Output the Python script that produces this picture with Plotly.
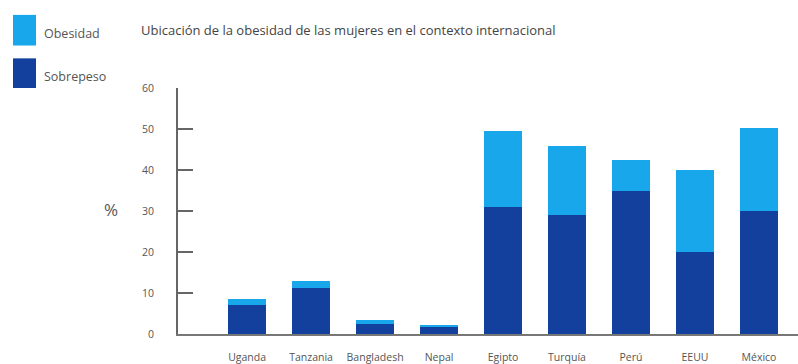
import plotly.graph_objects as go

# Datos: porcentaje de mujeres con sobrepeso y obesidad por país
paises = ["Uganda", "Tanzania", "Bangladesh", "Nepal", "Egipto",
          "Turquía", "Perú", "EEUU", "México"]
sobrepeso = [7.0, 11.2, 2.4, 1.6, 31.0, 29.0, 35.0, 20.0, 30.0]
obesidad = [1.5, 1.8, 1.0, 0.7, 18.6, 16.8, 7.4, 20.0, 20.2]
y_ticks = [0, 10, 20, 30, 40, 50, 60]

W, H = 798, 364
M_L, M_R, M_T, M_B = 178, 0, 88, 27
PW, PH = W - M_L - M_R, H - M_T - M_B

COLOR_OB = "#19a7eb"
COLOR_SP = "#133f9d"
TXT = "#555555"
FONT = "Open Sans, Noto Sans, sans-serif"


def px_x(p):
    return (p - M_L) / PW


def px_y(p):
    return 1 - (p - M_T) / PH


x = list(range(len(paises)))

fig = go.Figure()
fig.add_trace(go.Bar(x=x, y=sobrepeso, name="Sobrepeso",
                     marker=dict(color=COLOR_SP, line=dict(width=0)),
                     width=0.59))
fig.add_trace(go.Bar(x=x, y=obesidad, name="Obesidad",
                     marker=dict(color=COLOR_OB, line=dict(width=0)),
                     width=0.59))

fig.update_layout(
    width=W, height=H,
    margin=dict(l=M_L, r=M_R, t=M_T, b=M_B),
    barmode="stack",
    showlegend=False,
    plot_bgcolor="white", paper_bgcolor="white",
    font=dict(family=FONT, color=TXT, size=10),
)

fig.update_xaxes(
    range=[-1.08, 8.61],
    tickvals=x, ticktext=paises,
    showgrid=False, zeroline=False,
    showline=True, linecolor="#777777", linewidth=2,
    ticks="", ticklabelstandoff=12,
    tickfont=dict(size=10.5, color=TXT),
)
fig.update_yaxes(
    range=[0, 60],
    tickvals=y_ticks,
    showgrid=False, zeroline=False,
    showline=True, linecolor="#666666", linewidth=2,
    ticks="inside", ticklen=15, tickwidth=2, tickcolor="#666666",
    ticklabelstandoff=20,
    tickfont=dict(size=10.5, color=TXT),
)

# Leyenda con cuadros grandes
legend_items = [("Obesidad", COLOR_OB, 14, 45), ("Sobrepeso", COLOR_SP, 58, 88)]
for label, color, top, bottom in legend_items:
    fig.add_shape(type="rect", xref="paper", yref="paper",
                  x0=px_x(13), x1=px_x(36), y0=px_y(bottom), y1=px_y(top),
                  fillcolor=color, line=dict(width=0))
    fig.add_annotation(xref="paper", yref="paper",
                       x=px_x(42), y=px_y((top + bottom) / 2 + 3),
                       text=label, showarrow=False, xanchor="left",
                       yanchor="middle", font=dict(size=12.5, color=TXT))

fig.add_annotation(xref="paper", yref="paper", x=px_x(139), y=px_y(29),
                   text="Ubicación de la obesidad de las mujeres en el contexto internacional",
                   showarrow=False, xanchor="left", yanchor="middle",
                   font=dict(size=13, color="#444444"))

fig.add_annotation(xref="paper", yref="paper", x=px_x(111), y=px_y(211),
                   text="%", showarrow=False, xanchor="center",
                   yanchor="middle", font=dict(size=17, color=TXT))

fig.write_html("out.html")
